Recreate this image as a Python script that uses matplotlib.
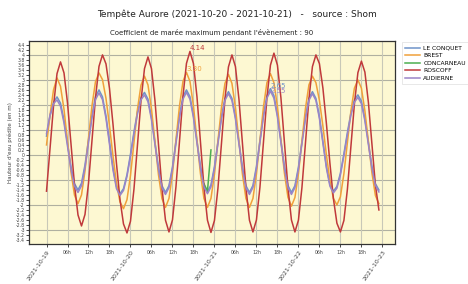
import matplotlib
matplotlib.use("Agg")
import matplotlib.pyplot as plt
import numpy as np
import pandas as pd

start = "2021-10-19 00:00"

le_conquet = [0.75, 1.55, 2.10, 2.32, 2.07, 1.39, 0.46, -0.47, -1.15, -1.40,
              -1.13, -0.40, 0.60, 1.60, 2.33, 2.60, 2.32, 1.56, 0.53, -0.51, -1.27, -1.55,
              -1.35, -0.79, 0.03, 0.92, 1.74, 2.30, 2.50,
              2.23, 1.50, 0.50, -0.50, -1.23, -1.50,
              -1.23, -0.48, 0.55, 1.58, 2.33, 2.60,
              2.33, 1.58, 0.57, -0.45, -1.20, -1.47,
              -1.20, -0.47, 0.53, 1.53, 2.26, 2.53,
              2.26, 1.52, 0.52, -0.49, -1.23, -1.50,
              -1.22, -0.46, 0.58, 1.61, 2.37, 2.65,
              2.37, 1.61, 0.58, -0.46, -1.22, -1.50,
              -1.23, -0.49, 0.52, 1.52, 2.26, 2.53,
              2.26, 1.53, 0.54, -0.46, -1.18, -1.45,
              -1.26, -0.73, 0.05, 0.90, 1.68, 2.21, 2.40,
              2.15, 1.45, 0.50, -0.45, -1.15, -1.40]

brest = [0.40, 1.60, 2.60, 3.08, 2.74, 1.82, 0.56, -0.69, -1.61, -1.95,
         -1.60, -0.64, 0.67, 1.97, 2.93, 3.28,
         3.01, 2.26, 1.17, -0.04, -1.13, -1.88, -2.15,
         -1.79, -0.82, 0.50, 1.83, 2.79, 3.15,
         2.80, 1.84, 0.53, -0.79, -1.75, -2.10,
         -1.74, -0.75, 0.60, 1.95, 2.94, 3.30,
         2.94, 1.95, 0.60, -0.75, -1.74, -2.10,
         -1.74, -0.77, 0.56, 1.89, 2.86, 3.22,
         2.86, 1.89, 0.56, -0.77, -1.74, -2.10,
         -1.74, -0.76, 0.58, 1.91, 2.89, 3.25,
         2.89, 1.93, 0.60, -0.73, -1.69, -2.05,
         -1.70, -0.75, 0.55, 1.85, 2.80, 3.15,
         2.89, 2.18, 1.15, 0.00, -1.03, -1.74, -2.00,
         -1.67, -0.75, 0.50, 1.75, 2.67, 3.00,
         2.67, 1.76, 0.53, -0.71, -1.62, -1.95]

concarneau_hours = [45, 46, 47]
concarneau = [-1.15, -1.45, 0.20]

roscoff = [-1.45, 0.25, 1.95, 3.25, 3.72, 3.28, 2.08, 0.44, -1.20, -2.40, -2.84,
           -2.38, -1.13, 0.58, 2.29, 3.54, 4.00,
           3.64, 2.66, 1.23, -0.35, -1.78, -2.76, -3.12,
           -2.65, -1.36, 0.40, 2.16, 3.45, 3.92,
           3.45, 2.17, 0.42, -1.33, -2.61, -3.08,
           -2.60, -1.27, 0.53, 2.34, 3.66, 4.14,
           3.65, 2.33, 0.52, -1.29, -2.61, -3.10,
           -2.62, -1.33, 0.45, 2.23, 3.52, 4.00,
           3.53, 2.23, 0.46, -1.31, -2.61, -3.08,
           -2.60, -1.29, 0.50, 2.28, 3.59, 4.07,
           3.59, 2.28, 0.50, -1.29, -2.60, -3.08,
           -2.61, -1.31, 0.46, 2.23, 3.53, 4.00,
           3.65, 2.67, 1.25, -0.33, -1.75, -2.73, -3.08,
           -2.62, -1.37, 0.34, 2.04, 3.29, 3.75,
           3.31, 2.10, 0.45, -1.20, -2.20]

audierne = [0.85, 1.60, 2.05, 2.20, 1.95, 1.28, 0.35, -0.58, -1.25, -1.50,
            -1.23, -0.51, 0.49, 1.49, 2.21, 2.48,
            2.21, 1.46, 0.43, -0.60, -1.35, -1.62,
            -1.42, -0.86, -0.06, 0.84, 1.64, 2.20, 2.40,
            2.13, 1.41, 0.41, -0.59, -1.31, -1.58,
            -1.31, -0.56, 0.46, 1.48, 2.23, 2.50,
            2.23, 1.49, 0.48, -0.54, -1.28, -1.55,
            -1.28, -0.55, 0.45, 1.45, 2.18, 2.45,
            2.18, 1.44, 0.44, -0.57, -1.31, -1.58,
            -1.30, -0.55, 0.49, 1.52, 2.27, 2.55,
            2.27, 1.52, 0.49, -0.55, -1.30, -1.58,
            -1.31, -0.57, 0.44, 1.44, 2.18, 2.45,
            2.18, 1.46, 0.47, -0.53, -1.25, -1.52,
            -1.33, -0.80, -0.03, 0.81, 1.58, 2.11, 2.30,
            2.05, 1.36, 0.41, -0.53, -1.21, -1.48]

series_names = ["LE CONQUET", "BREST", "CONCARNEAU", "ROSCOFF", "AUDIERNE"]
colors = ["#6f93c9", "#f0a13a", "#4caf50", "#c0393b", "#9a84c8"]

day_labels = ["2021-10-19", "2021-10-20", "2021-10-21", "2021-10-22", "2021-10-23"]
minor_labels = ["06h", "12h", "18h"]

t0 = pd.Timestamp(start)
def times(n):
    return pd.date_range(t0, periods=n, freq="h")

fig = plt.figure(figsize=(4.68, 2.84), dpi=100)
ax = fig.add_axes([0.062, 0.141, 0.782, 0.715])
ax.set_facecolor("#fdf8d2")

lw = 1.1
ax.plot(times(len(le_conquet)), le_conquet, color=colors[0], lw=lw, label=series_names[0])
ax.plot(times(len(brest)), brest, color=colors[1], lw=lw, label=series_names[1])
ax.plot([t0 + pd.Timedelta(hours=h) for h in concarneau_hours], concarneau,
        color=colors[2], lw=lw, label=series_names[2])
ax.plot(times(len(roscoff)), roscoff, color=colors[3], lw=lw, label=series_names[3])
ax.plot(times(len(audierne)), audierne, color=colors[4], lw=lw, label=series_names[4])

# max annotations
for data, col, dy in [(roscoff, colors[3], 0), (brest, colors[1], 0),
                      (le_conquet, colors[0], 0), (audierne, colors[4], -0.12)]:
    i = int(np.argmax(data))
    ax.text(times(len(data))[i], data[i] + dy, f"{max(data):.2f}", color=col,
            fontsize=5, ha="left", va="bottom")

ax.set_xlim(t0 - pd.Timedelta(hours=5), t0 + pd.Timedelta(hours=99.6))
ax.set_ylim(-3.56, 4.56)

yt = np.round(np.arange(-3.4, 4.41, 0.2), 1)
ax.set_yticks(yt)
ax.set_yticklabels([f"{v:g}" for v in yt], fontsize=3.3, color="#444444")
for v in range(-3, 5):
    ax.axhline(v, color="#b0b0a0", lw=0.8, zorder=0)

day_ticks = [pd.Timestamp(d) for d in day_labels]
ax.set_xticks(day_ticks)
ax.set_xticklabels(day_labels, rotation=55, ha="right", rotation_mode="anchor",
                   fontsize=4.5, color="#444444")
minor_ticks = []
minor_txt = []
for d in day_ticks[:-1]:
    for k, lab in enumerate(minor_labels):
        minor_ticks.append(d + pd.Timedelta(hours=6 * (k + 1)))
        minor_txt.append(lab)
ax.set_xticks(minor_ticks, minor=True)
ax.set_xticklabels(minor_txt, minor=True, fontsize=3.3, color="#444444")
ax.tick_params(axis="x", which="both", length=2, width=0.5, pad=2)
ax.tick_params(axis="y", length=2, width=0.5, pad=1)
for tk in day_ticks + minor_ticks:
    ax.axvline(tk, color="#c8c8b8", lw=0.8, zorder=0)

for s in ax.spines.values():
    s.set_color("#333333")
    s.set_linewidth(0.9)

ax.set_ylabel("Hauteur d'eau prédite (en m)", fontsize=4, color="#444444", labelpad=2)
ax.set_title("Coefficient de marée maximum pendant l'évènement : 90", fontsize=5, pad=4,
             color="#222222")
fig.text(0.506, 0.95, "Tempête Aurore (2021-10-20 - 2021-10-21)   -   source : Shom",
         fontsize=6.5, ha="center", va="center", color="#222222")

leg = ax.legend(loc="upper left", bbox_to_anchor=(1.01, 1.01), fontsize=4.3,
                frameon=True, handlelength=2.4, borderpad=0.6, labelspacing=0.4,
                handletextpad=0.6, fancybox=False)
leg.get_frame().set_edgecolor("#dddddd")
leg.get_frame().set_linewidth(0.6)

fig.savefig("out.png", dpi=100)
